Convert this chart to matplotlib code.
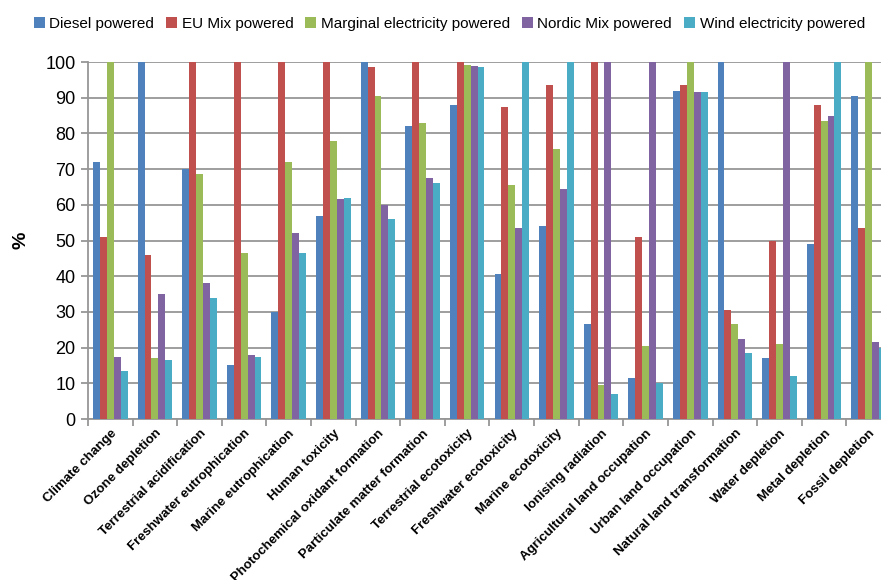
import matplotlib
matplotlib.use('Agg')
import matplotlib.pyplot as plt
import numpy as np

# Data
categories = [
    'Climate change', 'Ozone depletion', 'Terrestrial acidification',
    'Freshwater eutrophication', 'Marine eutrophication', 'Human toxicity',
    'Photochemical oxidant formation', 'Particulate matter formation',
    'Terrestrial ecotoxicity', 'Freshwater ecotoxicity', 'Marine ecotoxicity',
    'Ionising radiation', 'Agricultural land occupation', 'Urban land occupation',
    'Natural land transformation', 'Water depletion', 'Metal depletion',
    'Fossil depletion'
]

series_names = ['Diesel powered', 'EU Mix powered', 'Marginal electricity powered',
                'Nordic Mix powered', 'Wind electricity powered']

diesel = [72, 100, 70, 15, 30, 57, 100, 82, 88, 40.5, 54, 26.5, 11.5, 92, 100, 17, 49, 90.5]
eu_mix = [51, 46, 100, 100, 100, 100, 98.5, 100, 100, 87.5, 93.5, 100, 51, 93.5, 30.5, 50, 88, 53.5]
marginal = [100, 17, 68.5, 46.5, 72, 78, 90.5, 83, 99.2, 65.5, 75.5, 9.5, 20.5, 100, 26.5, 21, 83.5, 100]
nordic = [17.5, 35, 38, 18, 52, 61.5, 60, 67.5, 99, 53.5, 64.5, 100, 100, 91.5, 22.5, 100, 85, 21.5]
wind = [13.5, 16.5, 34, 17.5, 46.5, 62, 56, 66, 98.7, 100, 100, 7, 10, 91.7, 18.5, 12, 100, 20]

colors = ['#4F81BD', '#C0504D', '#9BBB59', '#8064A2', '#4BACC6']

fig = plt.figure(figsize=(8.81, 5.80), dpi=100)
# axes slightly wider than the figure: the last group is cut at the right edge
ax = fig.add_axes([88 / 881, 161 / 580, 803 / 881, 357 / 580])

x = np.arange(len(categories))
width = 0.155
all_series = [diesel, eu_mix, marginal, nordic, wind]
for k, (vals, name, c) in enumerate(zip(all_series, series_names, colors)):
    ax.bar(x + (k - 2) * width, vals, width, color=c, label=name, zorder=3)

ax.set_xlim(-0.5, len(categories) - 0.5)
ax.set_ylim(0, 100)
ax.set_yticks(np.arange(0, 101, 10))
ax.yaxis.grid(True, color='#969696', linewidth=1.3, zorder=0)
ax.set_axisbelow(True)

for side in ['top', 'right']:
    ax.spines[side].set_visible(False)
for side in ['left', 'bottom']:
    ax.spines[side].set_color('#969696')
    ax.spines[side].set_linewidth(1.3)

ax.set_xticks(x)
ax.set_xticklabels(categories, rotation=45, ha='right', rotation_mode='anchor',
                   fontsize=9.5, fontweight='bold', family='Liberation Sans')
ax.tick_params(axis='x', length=0, pad=6)
# tick marks between category groups
ax.set_xticks(np.arange(len(categories) + 1) - 0.5, minor=True)
ax.tick_params(axis='x', which='minor', length=5, color='#969696', width=1.3)
ax.tick_params(axis='y', length=5, color='#969696', width=1.3, labelsize=13, pad=4)
for lbl in ax.get_yticklabels():
    lbl.set_family('Liberation Sans')

ax.set_ylabel('%', fontsize=14, fontweight='bold', family='Liberation Sans', labelpad=11)

fig.legend(loc='upper center', bbox_to_anchor=(0.51, 0.995), ncol=5, frameon=False,
           handlelength=0.7, handleheight=0.7, handletextpad=0.3, columnspacing=0.8,
           prop={'family': 'Liberation Sans', 'size': 11})

plt.savefig('out.png', dpi=100)
plt.close()
